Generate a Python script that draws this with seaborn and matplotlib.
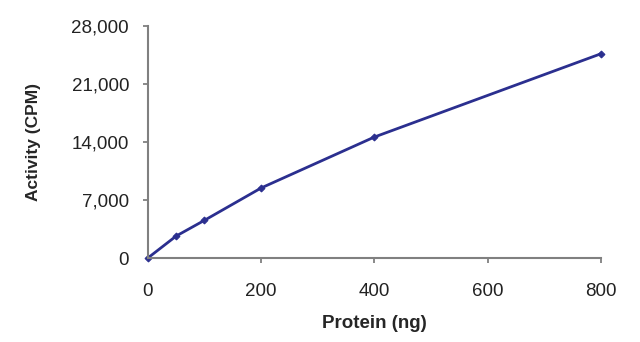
import matplotlib
matplotlib.use("Agg")
import matplotlib.pyplot as plt
import seaborn as sns
import pandas as pd
from matplotlib.ticker import FuncFormatter

protein_ng = [0, 50, 100, 200, 400, 800]
activity_cpm = [0, 2650, 4550, 8450, 14600, 24650]
x_ticks = [0, 200, 400, 600, 800]
y_ticks = [0, 7000, 14000, 21000, 28000]

sns.set_style("white")
plt.rcParams['font.family'] = ['Liberation Sans', 'DejaVu Sans']

df = pd.DataFrame({"Protein (ng)": protein_ng, "Activity (CPM)": activity_cpm})

fig = plt.figure(figsize=(6.4, 3.42), dpi=100)
ax = fig.add_axes([0.231, 0.2456, 0.708, 0.6784])
sns.lineplot(data=df, x="Protein (ng)", y="Activity (CPM)", ax=ax,
             color="#2B2F8F", linewidth=2.0, marker="D", markersize=3.5,
             markeredgecolor="#2B2F8F")
ax.set_xlim(0, 800)
ax.set_ylim(0, 28000)
ax.set_xticks(x_ticks)
ax.set_yticks(y_ticks)
ax.yaxis.set_major_formatter(FuncFormatter(lambda v, p: f"{int(v):,}"))
for s in ["top", "right"]:
    ax.spines[s].set_visible(False)
for s in ["left", "bottom"]:
    ax.spines[s].set_color("#808080")
    ax.spines[s].set_linewidth(1.5)
ax.tick_params(axis="both", direction="out", length=3.5, width=1.3, color="#808080",
               labelsize=13.5, labelcolor="#222222", bottom=True, left=True)
ax.tick_params(axis="y", pad=10)
ax.tick_params(axis="x", pad=14.5)
ax.xaxis.get_major_ticks()[0].tick1line.set_visible(False)
ax.yaxis.get_major_ticks()[0].tick1line.set_visible(False)
ax.set_xlabel("Protein (ng)", fontsize=13.5, fontweight="bold", labelpad=11)
ax.set_ylabel("Activity (CPM)", fontsize=12.5, fontweight="bold", labelpad=22)
for l in ax.lines:
    l.set_clip_on(False)
fig.savefig("out.png", dpi=100)
